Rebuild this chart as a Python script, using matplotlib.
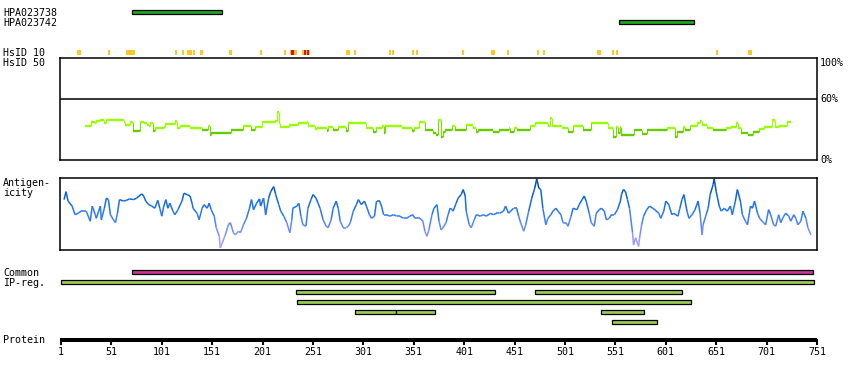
import numpy as np
import matplotlib
matplotlib.use("Agg")
import matplotlib.pyplot as plt
from matplotlib.collections import LineCollection
from matplotlib.colors import LinearSegmentedColormap

plt.rcParams['font.family'] = ['DejaVu Sans Mono']
FS = 7.2

# --- data -------------------------------------------------------------
seq_len = 751
tick_pos = list(range(1, 752, 50))

ab_names = ['HPA023738', 'HPA023742']
ab_start = [71, 555]
ab_end = [161, 629]

# HsID 10 marks (level 1 = yellow, 2 = red)
hs_start = [17, 48, 65, 114, 121, 126, 132, 139, 168, 198, 222, 228, 229, 232,
            240, 242, 244, 245, 247, 284, 292, 326, 329, 349, 353, 399, 428,
            443, 473, 479, 533, 548, 552, 651, 683]
hs_end = [21, 50, 74, 116, 123, 131, 134, 142, 171, 200, 224, 229, 232, 235,
          242, 244, 245, 247, 248, 288, 294, 328, 331, 351, 355, 401, 432,
          445, 475, 481, 537, 550, 554, 653, 687]
hs_level = [1, 1, 1, 1, 1, 1, 1, 1, 1, 1, 1, 1, 2, 1,
            1, 2, 1, 2, 1, 1, 1, 1, 1, 1, 1, 1, 1,
            1, 1, 1, 1, 1, 1, 1, 1]

common_start, common_end = 71, 747
ip_start = [1, 234, 471, 235, 293, 333, 537, 548]
ip_end = [748, 432, 617, 626, 333, 372, 579, 592]
ip_row = [0, 1, 1, 2, 3, 3, 3, 4]

# conservation (HsID 50), percent, step breakpoints
cons_res = [25, 31, 35, 36, 40, 44, 46, 63, 64, 69, 72, 79, 83, 86, 88, 89, 92,
            94, 103, 104, 114, 116, 119, 129, 141, 147, 149, 150, 170, 182,
            189, 193, 200, 213, 215, 217, 218, 227, 236, 245, 246, 253, 255,
            265, 266, 271, 276, 284, 286, 304, 311, 313, 319, 321, 322, 339,
            349, 351, 356, 362, 370, 373, 375, 378, 380, 382, 389, 392, 403,
            410, 413, 415, 430, 436, 445, 446, 450, 453, 466, 471, 484, 486,
            488, 498, 504, 509, 519, 527, 544, 549, 552, 554, 556, 557, 569,
            577, 582, 602, 610, 612, 618, 620, 625, 632, 635, 637, 642, 648,
            661, 666, 671, 673, 676, 683, 688, 693, 698, 706, 709, 713, 721,
            725]
cons_val = [33.0, 37.6, 35.9, 38.2, 39.5, 35.9, 39.5, 37.6, 34.3, 36.9, 28.8,
            37.6, 35.9, 34.3, 33.3, 35.9, 28.8, 31.0, 32.7, 35.3, 38.2, 31.0,
            33.3, 31.0, 29.4, 33.7, 24.5, 26.1, 29.4, 33.7, 29.4, 32.7, 37.6,
            38.2, 47.4, 35.9, 32.4, 34.3, 35.9, 36.9, 33.7, 30.4, 31.0, 28.4,
            32.7, 29.4, 32.7, 28.4, 35.9, 31.7, 27.8, 31.0, 33.7, 26.1, 33.7,
            31.0, 28.4, 31.0, 37.6, 29.4, 26.1, 24.5, 39.2, 22.9, 27.8, 29.4,
            33.7, 29.4, 34.3, 31.0, 27.8, 29.4, 27.1, 29.4, 31.0, 27.8, 31.0,
            29.4, 33.7, 35.9, 33.7, 41.5, 33.7, 31.7, 27.8, 33.7, 29.4, 35.9,
            31.7, 22.9, 32.7, 26.1, 32.7, 24.5, 29.4, 25.2, 29.4, 31.0, 22.9,
            27.8, 32.7, 29.4, 33.7, 35.9, 38.2, 34.3, 31.0, 29.4, 31.0, 32.7,
            35.9, 31.0, 26.1, 24.5, 27.8, 30.4, 32.7, 39.2, 32.7, 33.7, 37.6,
            37.6]

# antigenicity, 0-100 relative
ag_res = [4, 6, 8, 12, 15, 18, 21, 26, 30, 32, 35, 36, 40, 41, 44, 46, 48, 50,
          53, 55, 57, 59, 63, 66, 69, 73, 76, 81, 83, 85, 88, 91, 94, 97, 99,
          101, 103, 105, 107, 109, 112, 114, 117, 121, 123, 126, 129, 131, 132,
          136, 138, 141, 143, 146, 148, 150, 153, 155, 158, 159, 161, 164, 167,
          169, 172, 174, 177, 179, 182, 185, 188, 190, 192, 195, 198, 199, 202,
          204, 207, 209, 212, 214, 217, 219, 222, 225, 228, 230, 231, 235, 237,
          239, 241, 244, 246, 249, 251, 254, 256, 258, 261, 264, 266, 269, 271,
          274, 276, 278, 281, 284, 286, 288, 291, 294, 296, 299, 302, 304, 307,
          309, 312, 314, 317, 319, 321, 324, 327, 331, 334, 337, 341, 344, 347,
          350, 352, 355, 357, 360, 362, 364, 366, 369, 371, 374, 376, 378, 380,
          383, 385, 387, 389, 390, 393, 395, 398, 400, 402, 403, 406, 408, 411,
          413, 417, 420, 423, 427, 430, 433, 436, 440, 442, 445, 447, 450, 453,
          455, 457, 460, 462, 465, 468, 471, 473, 475, 477, 479, 482, 484, 487,
          489, 492, 494, 497, 499, 502, 504, 507, 509, 513, 515, 518, 520, 522,
          525, 527, 530, 532, 535, 537, 540, 542, 545, 547, 550, 553, 556, 557,
          559, 561, 563, 565, 568, 569, 571, 574, 575, 577, 579, 582, 585, 588,
          590, 594, 596, 599, 601, 604, 607, 609, 613, 615, 617, 619, 622, 624,
          627, 630, 633, 635, 637, 638, 641, 643, 645, 648, 649, 651, 654, 656,
          659, 662, 665, 667, 670, 672, 675, 677, 680, 682, 685, 687, 689, 692,
          694, 698, 700, 703, 705, 708, 710, 713, 715, 718, 720, 723, 725, 728,
          730, 732, 735, 737, 740, 742, 745]
ag_val = [70, 81, 68, 61, 49, 51, 54, 54, 40, 61, 49, 44, 61, 42, 58, 72, 70, 49,
          42, 38, 51, 70, 68, 69, 71, 70, 72, 78, 75, 68, 63, 61, 58, 69, 58,
          47, 61, 70, 58, 65, 54, 49, 56, 68, 79, 77, 75, 65, 58,
          51, 42, 58, 63, 58, 65, 56, 47, 31, 19, 3, 10, 21, 35,
          38, 24, 21, 26, 24, 35, 44, 58, 70, 56, 65, 71, 61, 72,
          49, 72, 81, 88, 77, 63, 54, 47, 38, 24, 42, 58, 61, 65,
          47, 35, 33, 58, 70, 77, 72, 65, 58, 42, 33, 31, 42, 58,
          68, 58, 40, 31, 31, 33, 38, 54, 63, 70, 63, 68, 61, 49,
          44, 47, 68, 68, 61, 49, 49, 47, 49, 47, 47, 44, 44, 47,
          49, 44, 44, 44, 40, 26, 19, 28, 49, 58, 63, 40, 28, 31,
          38, 49, 58, 56, 54, 65, 72, 77, 84, 75, 54, 35, 31, 42,
          49, 47, 49, 47, 51, 49, 51, 51, 54, 61, 51, 54, 58, 58,
          47, 38, 26, 35, 54, 72, 86, 99, 86, 84, 58, 35, 44, 49,
          54, 58, 54, 49, 38, 38, 33, 47, 58, 56, 63, 70, 75, 68,
          51, 38, 33, 51, 56, 58, 54, 42, 44, 49, 49, 56, 68, 77,
          84, 81, 70, 58, 24, 7, 17, 5, 17, 35, 47, 56, 61, 58,
          56, 51, 44, 54, 68, 63, 49, 51, 47, 58, 70, 77, 54, 44,
          49, 56, 68, 51, 21, 35, 49, 58, 77, 91, 99, 81, 61, 54,
          58, 54, 61, 49, 68, 84, 68, 49, 40, 35, 61, 58, 68, 51,
          44, 38, 35, 56, 49, 35, 33, 49, 38, 47, 51, 47, 40, 49,
          44, 35, 40, 54, 44, 31, 21]

# --- layout (pixels of an 850x380 image) ------------------------------
W, H = 850, 380
X0, X1 = 60, 817
scale = (X1 - X0) / seq_len

fig = plt.figure(figsize=(W / 100, H / 100), dpi=100)
ax = fig.add_axes([0, 0, 1, 1])
ax.set_xlim(-X0 / scale, (W - X0) / scale)
ax.set_ylim(H, 0)
ax.axis('off')


def label(y, s):
    fig.text(3 / W, 1 - y / H, s, fontsize=FS, va='center', ha='left')


# antibodies
label(12.5, ab_names[0])
label(22.5, ab_names[1])
ab_y = [12.3, 22.3]
for s, e, y in zip(ab_start, ab_end, ab_y):
    ax.barh(y, e - s, left=s, height=4, color='#1fa51f', edgecolor='black', linewidth=0.9)

# HsID 10
label(52.5, 'HsID 10')
label(62.5, 'HsID 50')
hs_col = {1: '#ffc629', 2: '#dd1111'}
ax.bar(hs_start, 5, width=np.array(hs_end) - np.array(hs_start), bottom=49.7,
       align='edge', color=[hs_col[l] for l in hs_level], linewidth=0)

# conservation box
axc = fig.add_axes([X0 / W, 1 - 160 / H, (X1 - X0) / W, 102 / H])
axc.set_xlim(0, seq_len)
axc.set_ylim(0, 100)
axc.set_xticks([])
axc.set_yticks([])
for sp in axc.spines.values():
    sp.set_linewidth(1.1)
axc.axhline(60, color='black', lw=1.1)
tr = axc.get_yaxis_transform()
axc.text(1.004, 100, '100%', transform=tr, fontsize=FS, va='top', ha='left')
axc.text(1.004, 60, '60%', transform=tr, fontsize=FS, va='center', ha='left')
axc.text(1.004, 0, '0%', transform=tr, fontsize=FS, va='center', ha='left')

hseg, vseg, hcol, vcol = [], [], [], []
for i in range(len(cons_res) - 1):
    c = '#99ff00' if cons_val[i] >= 30 else '#66cc00'
    hseg.append([(cons_res[i], cons_val[i]), (cons_res[i + 1], cons_val[i])])
    hcol.append(c)
    vseg.append([(cons_res[i + 1], cons_val[i]), (cons_res[i + 1], cons_val[i + 1])])
    vcol.append('#99ff00' if min(cons_val[i], cons_val[i + 1]) >= 30 else '#77dd00')
axc.add_collection(LineCollection(vseg, colors=vcol, linewidths=0.8))
axc.add_collection(LineCollection(hseg, colors=hcol, linewidths=1.7, capstyle='butt'))

# antigenicity box
label(183, 'Antigen-')
label(193, 'icity')
axa = fig.add_axes([X0 / W, 1 - 250 / H, (X1 - X0) / W, 72 / H])
axa.set_xlim(0, seq_len)
axa.set_ylim(0, 100)
axa.set_xticks([])
axa.set_yticks([])
for sp in axa.spines.values():
    sp.set_linewidth(1.1)
cmap = LinearSegmentedColormap.from_list(
    'ag', [(0, '#b8a6ff'), (0.3, '#6f8cff'), (0.5, '#2a7af5'),
           (0.75, '#0a64e0'), (1, '#0048a0')])
pts = np.column_stack([ag_res, ag_val])
segs = np.stack([pts[:-1], pts[1:]], axis=1)
mid = (np.array(ag_val[:-1]) + np.array(ag_val[1:])) / 200
axa.add_collection(LineCollection(segs, colors=cmap(mid), linewidths=1.1))

# common / IP regions
label(272.5, 'Common')
label(283, 'IP-reg.')
ax.barh(272.3, common_end - common_start, left=common_start, height=4,
        color='#cc3399', edgecolor='black', linewidth=0.9)
ip_y = 282.3 + 10 * np.array(ip_row)
ax.barh(ip_y, np.array(ip_end) - np.array(ip_start), left=ip_start, height=4,
        color='#99cc55', edgecolor='black', linewidth=0.9)

# protein axis
label(340, 'Protein')
ax.plot([0, seq_len], [339.6, 339.6], color='black', lw=2.9, solid_capstyle='butt')
ax.vlines(tick_pos, 339, 344.5, color='black', lw=1.5)
for t in tick_pos:
    ax.text(t, 352, str(t), fontsize=FS, ha='center', va='center')

fig.savefig('out.png', dpi=100)
